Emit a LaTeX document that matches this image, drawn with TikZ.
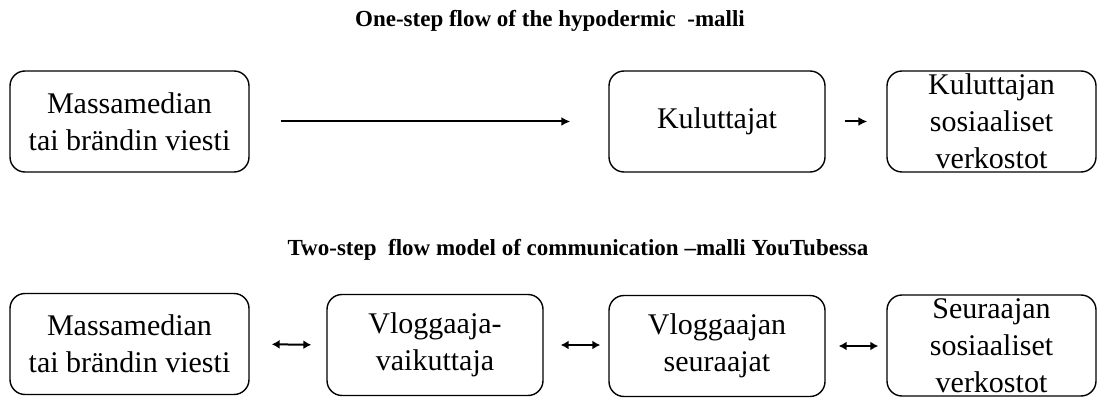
\documentclass[tikz,border=0pt]{standalone}
\usepackage{fontspec}
\setmainfont{Liberation Serif}
\usetikzlibrary{arrows.meta}

\tikzset{
  box/.style={draw, line width=1.4pt, rounded corners=15pt, inner sep=0pt,
    align=center, minimum height=101pt, font=\fontsize{30}{37}\selectfont},
  hd/.style={anchor=base, font=\fontsize{23}{27}\selectfont\bfseries},
  one/.style={line width=2pt, -{Latex[length=9pt,width=9pt]}},
  two/.style={line width=2pt, {Latex[length=8pt,width=9pt]}-{Latex[length=8pt,width=9pt]}}
}

\begin{document}
\begin{tikzpicture}[x=1pt,y=-1pt]
\useasboundingbox (0,0) rectangle (1098,398);

\node[hd] (t1) at (550,27) {One-step flow of the hypodermic\ \ -malli};
\node[box, minimum width=239pt] (m1) at (129.5,121.5) {Massamedian\\tai brändin viesti};
\node[box, minimum width=216pt] (k) at (717,121.5) {Kuluttajat};
\node[box, minimum width=209pt] (kv) at (991.5,121.5) {Kuluttajan\\sosiaaliset\\verkostot};
\draw[one, shorten <=31pt, shorten >=38pt] (m1.east) -- (k.west);
\draw[one, shorten <=19pt, shorten >=19pt] (k.east) -- (kv.west);

\node[hd] (t2) at (578,255) {Two-step\ \ flow model of communication –malli YouTubessa};
\node[box, minimum width=239pt] (m2) at (129.5,344) {Massamedian\\tai brändin viesti};
\node[box, minimum width=216pt] (v) at (435,345) {Vloggaaja-\\vaikuttaja};
\node[box, minimum width=216pt] (vs) at (717,346) {Vloggaajan\\seuraajat};
\node[box, minimum width=209pt] (sv) at (991.5,345.5) {Seuraajan\\sosiaaliset\\verkostot};
\draw[two, shorten <=22pt, shorten >=15pt] (m2.east) -- (v.west);
\draw[two, shorten <=17pt, shorten >=8pt] (v.east) -- (vs.west |- v.east);
\draw[two, shorten <=13pt, shorten >=8pt] (vs.east) -- (sv.west |- vs.east);
\end{tikzpicture}
\end{document}
